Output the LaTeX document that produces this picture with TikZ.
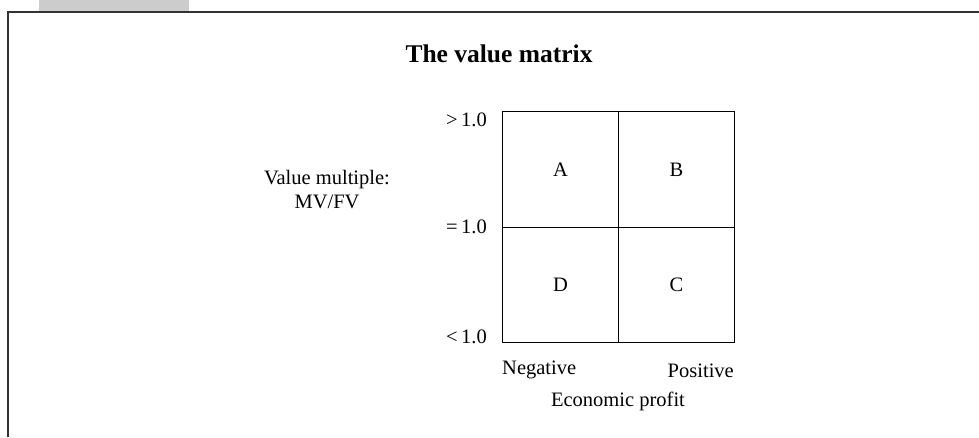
\documentclass[tikz,border=0pt]{standalone}
\usepackage{fontspec}
\setmainfont{Liberation Serif}
\usepackage{tikz}
\usetikzlibrary{positioning}
\definecolor{frameline}{HTML}{333333}
\definecolor{tabgray}{HTML}{CCCCCC}

\begin{document}
\begin{tikzpicture}[
  x=1pt, y=-1pt,
  cell/.style={draw, line width=1.2pt, minimum width=116.5pt, minimum height=115.5pt, inner sep=0pt,
    font=\fontsize{20.5}{24}\selectfont},
  label/.style={font=\fontsize{20.5}{24}\selectfont, inner sep=0pt, anchor=base},
  frame/.style={frameline, line width=2pt}
]
  \useasboundingbox (0,0) rectangle (979,437);

  % Tab and frame
  \fill[tabgray] (39,0) rectangle (189,10.5);
  \draw[frame] (7.5,437) -- (7.5,11.5) -- (979,11.5);

  % Title
  \node[label, font=\fontsize{25.5}{30}\selectfont\bfseries] (title) at (499,62) {The value matrix};

  % The four cells
  \node[cell] (A) at (560.5,169.5) {A};
  \node[cell] (B) at (676.5,169.5) {B};
  \node[cell] (D) at (560.5,285) {D};
  \node[cell] (C) at (676.5,285) {C};

  % Vertical axis labels
  \node[label, anchor=base east] (high) at (487,126) {>\,1.0};
  \node[label, anchor=base east] (mid) at (487,233) {=\,1.0};
  \node[label, anchor=base east] (low) at (487,343) {<\,1.0};
  \node[label, align=center] (ylab) at (327,208) {Value multiple:\\MV/FV};

  % Horizontal axis labels
  \node[label, anchor=base west] (neg) at (502,374) {Negative};
  \node[label, anchor=base east] (pos) at (734,377) {Positive};
  \node[label] (xlab) at (618,406) {Economic profit};
\end{tikzpicture}
\end{document}
